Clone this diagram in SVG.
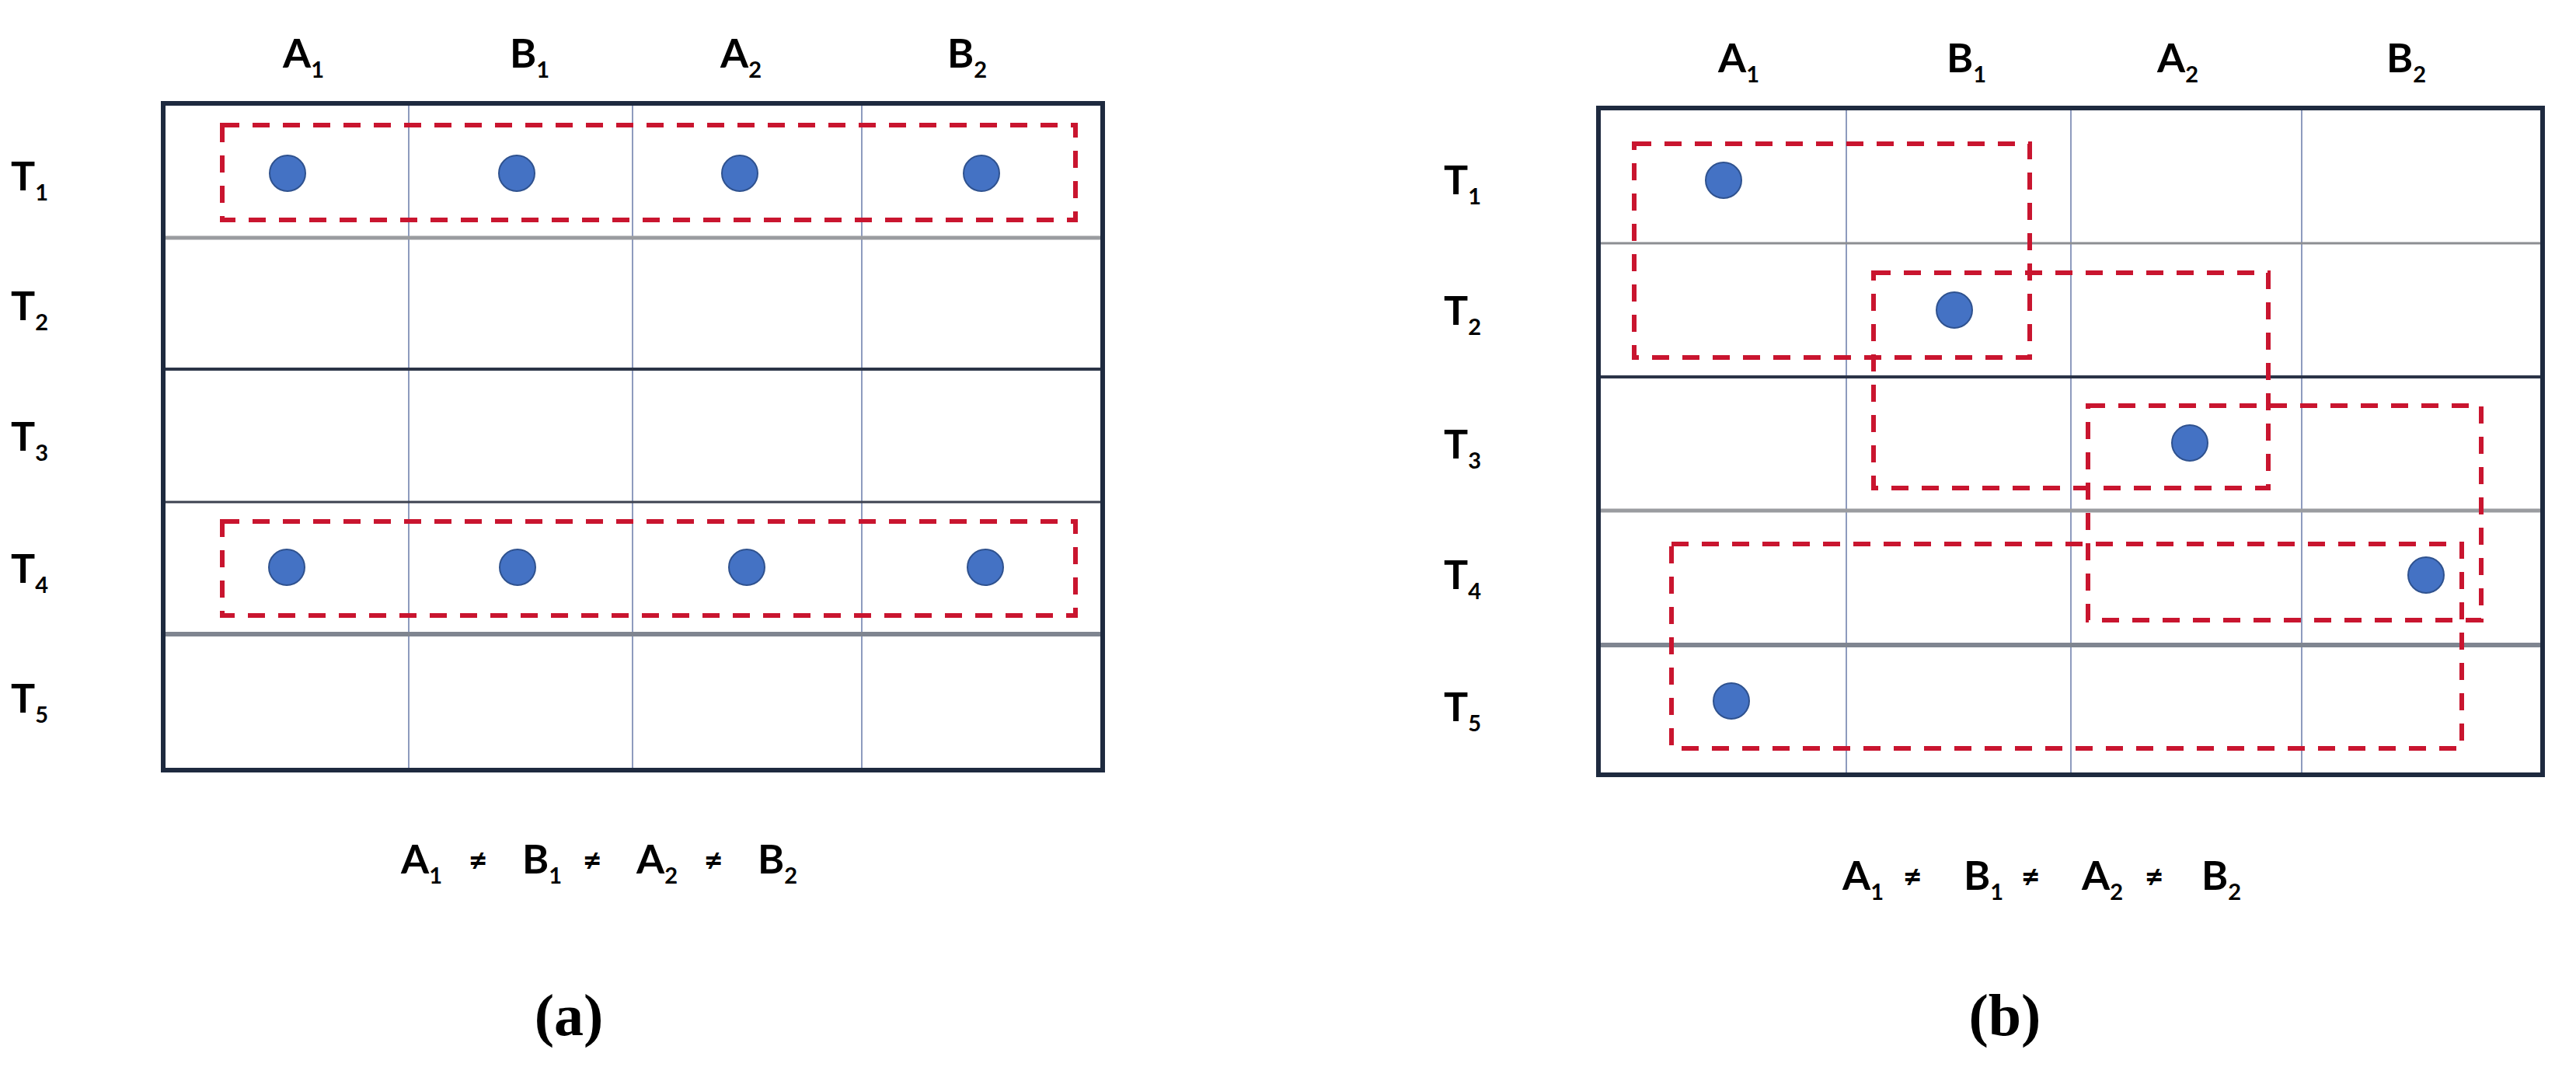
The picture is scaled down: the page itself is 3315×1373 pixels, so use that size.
<svg xmlns="http://www.w3.org/2000/svg" width="3315" height="1373" viewBox="0 0 3315 1373">
<style>
.lbl{font-family:Lato,"Liberation Sans",sans-serif;font-weight:700;font-size:52px;fill:#000}
.sub{font-size:29px}
.neq{font-size:42px}
.cap{font-family:"Liberation Serif","Times New Roman",serif;font-weight:700;font-size:76px;fill:#000;text-anchor:middle}
.outer{fill:#fff;stroke:#1E2A3F;stroke-width:6}
.col{stroke:#8E9BBE;stroke-width:2}
.rgrey{stroke:#9A9CA0;stroke-width:5}
.rgreyt{stroke:#8C8E92;stroke-width:3}
.rdark{stroke:#2B3447;stroke-width:4}
.rdarkt{stroke:#3C4250;stroke-width:3}
.rgreyk{stroke:#7F8590;stroke-width:6}
.grp{fill:none;stroke:#C9152F;stroke-width:6;stroke-dasharray:22 17}
.dot{fill:#4472C4;stroke:#2F528F;stroke-width:2}
</style>

<g id="panel-a">
  <g id="grid-a">
    <rect class="outer" x="210" y="133" width="1209" height="858"/>
    <line class="col" x1="526" y1="133" x2="526" y2="991"/>
    <line class="col" x1="814" y1="133" x2="814" y2="991"/>
    <line class="col" x1="1109" y1="133" x2="1109" y2="991"/>
    <line class="rgrey" x1="210" y1="306" x2="1419" y2="306"/>
    <line class="rdark" x1="210" y1="475" x2="1419" y2="475"/>
    <line class="rdarkt" x1="210" y1="646" x2="1419" y2="646"/>
    <line class="rgreyk" x1="210" y1="816" x2="1419" y2="816"/>
    <rect class="outer" x="210" y="133" width="1209" height="858" style="fill:none"/>
  </g>
  <g id="cols-a">
    <text class="lbl" x="364" y="87">A<tspan class="sub" dy="13">1</tspan></text>
    <text class="lbl" x="656" y="87">B<tspan class="sub" dy="13">1</tspan></text>
    <text class="lbl" x="927" y="87">A<tspan class="sub" dy="13">2</tspan></text>
    <text class="lbl" x="1219" y="87">B<tspan class="sub" dy="13">2</tspan></text>
  </g>
  <g id="rows-a">
    <text class="lbl" x="14" y="245">T<tspan class="sub" dy="13">1</tspan></text>
    <text class="lbl" x="14" y="412">T<tspan class="sub" dy="13">2</tspan></text>
    <text class="lbl" x="14" y="580">T<tspan class="sub" dy="13">3</tspan></text>
    <text class="lbl" x="14" y="750">T<tspan class="sub" dy="13">4</tspan></text>
    <text class="lbl" x="14" y="917">T<tspan class="sub" dy="13">5</tspan></text>
  </g>
  <g id="group-a-t1"><rect class="grp" x="286" y="161" width="1098" height="122"/></g>
  <g id="group-a-t4"><rect class="grp" x="286" y="671" width="1098" height="121"/></g>
  <g id="dots-a">
    <circle class="dot" cx="370" cy="223" r="23"/>
    <circle class="dot" cx="665" cy="223" r="23"/>
    <circle class="dot" cx="952" cy="223" r="23"/>
    <circle class="dot" cx="1263" cy="223" r="23"/>
    <circle class="dot" cx="369" cy="730" r="23"/>
    <circle class="dot" cx="666" cy="730" r="23"/>
    <circle class="dot" cx="961" cy="730" r="23"/>
    <circle class="dot" cx="1268" cy="730" r="23"/>
  </g>
  <g id="formula-a">
    <text class="lbl">
      <tspan x="516" y="1124">A</tspan><tspan class="sub" dy="13">1</tspan>
      <tspan class="neq" x="603" y="1122">≠</tspan>
      <tspan x="672" y="1124">B</tspan><tspan class="sub" dy="13">1</tspan>
      <tspan class="neq" x="750" y="1122">≠</tspan>
      <tspan x="819" y="1124">A</tspan><tspan class="sub" dy="13">2</tspan>
      <tspan class="neq" x="906" y="1122">≠</tspan>
      <tspan x="975" y="1124">B</tspan><tspan class="sub" dy="13">2</tspan>
    </text>
  </g>
  <text id="caption-a" class="cap" x="732" y="1332">(a)</text>
</g>

<g id="panel-b">
  <g id="grid-b">
    <rect class="outer" x="2057" y="139" width="1215" height="858"/>
    <line class="col" x1="2376" y1="139" x2="2376" y2="997"/>
    <line class="col" x1="2665" y1="139" x2="2665" y2="997"/>
    <line class="col" x1="2962" y1="139" x2="2962" y2="997"/>
    <line class="rgreyt" x1="2057" y1="313" x2="3272" y2="313"/>
    <line class="rdark" x1="2057" y1="485" x2="3272" y2="485"/>
    <line class="rgrey" x1="2057" y1="657" x2="3272" y2="657"/>
    <line class="rgreyk" x1="2057" y1="830" x2="3272" y2="830"/>
    <rect class="outer" x="2057" y="139" width="1215" height="858" style="fill:none"/>
  </g>
  <g id="cols-b">
    <text class="lbl" x="2211" y="93">A<tspan class="sub" dy="13">1</tspan></text>
    <text class="lbl" x="2505" y="93">B<tspan class="sub" dy="13">1</tspan></text>
    <text class="lbl" x="2776" y="93">A<tspan class="sub" dy="13">2</tspan></text>
    <text class="lbl" x="3071" y="93">B<tspan class="sub" dy="13">2</tspan></text>
  </g>
  <g id="rows-b">
    <text class="lbl" x="1858" y="250">T<tspan class="sub" dy="13">1</tspan></text>
    <text class="lbl" x="1858" y="418">T<tspan class="sub" dy="13">2</tspan></text>
    <text class="lbl" x="1858" y="590">T<tspan class="sub" dy="13">3</tspan></text>
    <text class="lbl" x="1858" y="758">T<tspan class="sub" dy="13">4</tspan></text>
    <text class="lbl" x="1858" y="928">T<tspan class="sub" dy="13">5</tspan></text>
  </g>
  <g id="group-b-1"><rect class="grp" x="2103" y="185" width="509" height="275"/></g>
  <g id="group-b-2"><rect class="grp" x="2411" y="351" width="508" height="277"/></g>
  <g id="group-b-3"><rect class="grp" x="2687" y="522" width="506" height="276"/></g>
  <g id="group-b-4"><rect class="grp" x="2151" y="700" width="1017" height="263"/></g>
  <g id="dots-b">
    <circle class="dot" cx="2218" cy="232" r="23"/>
    <circle class="dot" cx="2515" cy="399" r="23"/>
    <circle class="dot" cx="2818" cy="570" r="23"/>
    <circle class="dot" cx="3122" cy="740" r="23"/>
    <circle class="dot" cx="2228" cy="902" r="23"/>
  </g>
  <g id="formula-b">
    <text class="lbl">
      <tspan x="2371" y="1145">A</tspan><tspan class="sub" dy="13">1</tspan>
      <tspan class="neq" x="2449" y="1143">≠</tspan>
      <tspan x="2527" y="1145">B</tspan><tspan class="sub" dy="13">1</tspan>
      <tspan class="neq" x="2601" y="1143">≠</tspan>
      <tspan x="2679" y="1145">A</tspan><tspan class="sub" dy="13">2</tspan>
      <tspan class="neq" x="2760" y="1143">≠</tspan>
      <tspan x="2833" y="1145">B</tspan><tspan class="sub" dy="13">2</tspan>
    </text>
  </g>
  <text id="caption-b" class="cap" x="2580" y="1332">(b)</text>
</g>
</svg>
